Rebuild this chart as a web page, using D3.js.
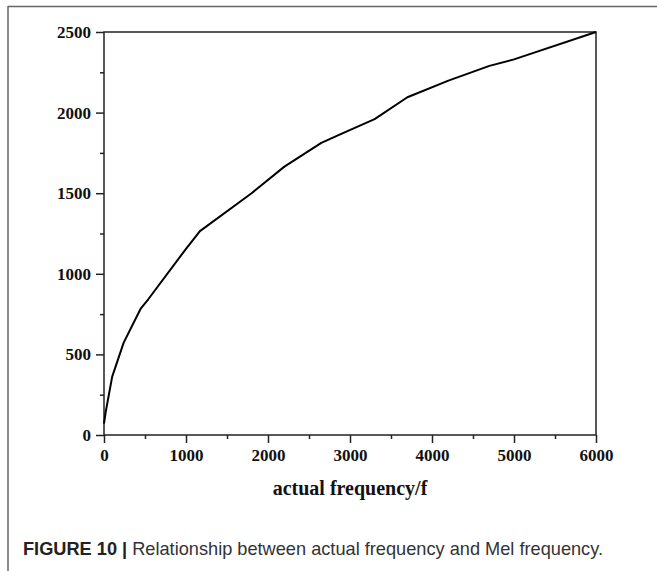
<!DOCTYPE html>
<html>
<head>
<meta charset="utf-8">
<script src="https://cdn.jsdelivr.net/npm/d3@7"></script>
<style>
  html, body { margin: 0; padding: 0; background: #fff; }
  svg { display: block; }
</style>
</head>
<body>
<svg id="chart" width="657" height="571"></svg>
<script>
// Data
const actualFreq = [0, 20, 45, 100, 240, 450, 540, 1000, 1170, 1800, 2200, 2650, 2900, 3300, 3700, 4200, 4700, 5000, 6000];
const melFreq    = [70, 140, 210, 362, 573, 786, 842, 1155, 1265, 1500, 1665, 1812, 1870, 1960, 2095, 2198, 2290, 2330, 2500];
const xTickValues = [0, 1000, 2000, 3000, 4000, 5000, 6000];
const yTickValues = [0, 500, 1000, 1500, 2000, 2500];
const xLabel = "actual frequency/f";
const captionBold = "FIGURE 10 |";
const captionText = " Relationship between actual frequency and Mel frequency.";

const svg = d3.select("#chart");
const W = 657, H = 571;
const plot = { left: 104, right: 596, top: 32, bottom: 435 };

// Panel frame (top and left lines)
svg.append("line").attr("x1", 8).attr("x2", W).attr("y1", 6.5).attr("y2", 6.5)
  .attr("stroke", "#666").attr("stroke-width", 1.5);
svg.append("line").attr("x1", 8).attr("x2", 8).attr("y1", 6).attr("y2", H)
  .attr("stroke", "#666").attr("stroke-width", 1.5);

const x = d3.scaleLinear().domain([0, 6000]).range([plot.left, plot.right]);
const y = d3.scaleLinear().domain([0, 2500]).range([plot.bottom, plot.top]);

const tickFont = "'Liberation Serif', 'Times New Roman', serif";
const axisColor = "#222";

// Minor ticks
const xMinor = d3.range(500, 6000, 1000);
const yMinor = d3.range(250, 2500, 500);

const gx = svg.append("g").attr("transform", `translate(0,${plot.bottom})`)
  .call(d3.axisBottom(x).tickValues(xTickValues).tickSize(8).tickPadding(6).tickFormat(d3.format("d")));
const gxm = svg.append("g").attr("transform", `translate(0,${plot.bottom})`)
  .call(d3.axisBottom(x).tickValues(xMinor).tickSize(4).tickFormat(""));
const gy = svg.append("g").attr("transform", `translate(${plot.left},0)`)
  .call(d3.axisLeft(y).tickValues(yTickValues).tickSize(8).tickPadding(5).tickFormat(d3.format("d")));
const gym = svg.append("g").attr("transform", `translate(${plot.left},0)`)
  .call(d3.axisLeft(y).tickValues(yMinor).tickSize(4).tickFormat(""));

[gx, gxm, gy, gym].forEach(g => {
  g.select(".domain").remove();
  g.selectAll("line").attr("stroke", axisColor).attr("stroke-width", 1.5);
  g.selectAll("text").attr("fill", "#111").style("font-family", tickFont)
    .style("font-weight", "bold").style("font-size", "17px");
});

// Axis box
svg.append("rect")
  .attr("x", plot.left).attr("y", plot.top)
  .attr("width", plot.right - plot.left).attr("height", plot.bottom - plot.top)
  .attr("fill", "none").attr("stroke", axisColor).attr("stroke-width", 1.5);

// Curve
const line = d3.line().x((d, i) => x(actualFreq[i])).y((d, i) => y(melFreq[i]));
svg.append("path").datum(melFreq)
  .attr("d", line).attr("fill", "none").attr("stroke", "#000")
  .attr("stroke-width", 2).attr("stroke-linejoin", "round");

// X label
svg.append("text").attr("x", (plot.left + plot.right) / 2).attr("y", 495)
  .attr("text-anchor", "middle")
  .style("font-family", tickFont).style("font-weight", "bold").style("font-size", "20px")
  .attr("fill", "#111").text(xLabel);

// Caption
const cap = svg.append("text").attr("x", 23).attr("y", 555)
  .style("font-family", "'Liberation Sans', Arial, sans-serif").style("font-size", "18.2px")
  .attr("fill", "#333");
cap.append("tspan").style("font-weight", "bold").attr("fill", "#222").text(captionBold);
cap.append("tspan").text(captionText);
</script>
</body>
</html>
